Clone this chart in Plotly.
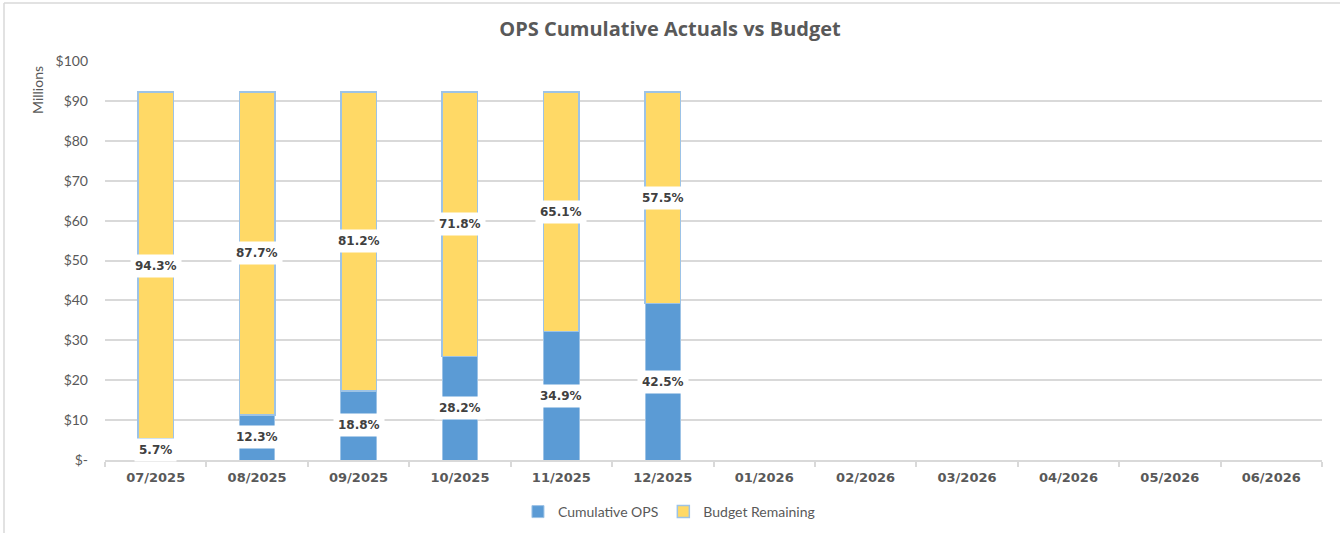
import plotly.graph_objects as go

months = ["07/2025", "08/2025", "09/2025", "10/2025", "11/2025", "12/2025",
          "01/2026", "02/2026", "03/2026", "04/2026", "05/2026", "06/2026"]
cumulative_ops = [5.26, 11.34, 17.33, 26.0, 32.18, 39.19]
budget_remaining = [86.94, 80.86, 74.87, 66.2, 60.02, 53.01]
ops_labels = ["5.7%", "12.3%", "18.8%", "28.2%", "34.9%", "42.5%"]
remaining_labels = ["94.3%", "87.7%", "81.2%", "71.8%", "65.1%", "57.5%"]
y_ticks = [0, 10, 20, 30, 40, 50, 60, 70, 80, 90, 100]
y_tick_labels = ["$-", "$10", "$20", "$30", "$40", "$50", "$60", "$70", "$80", "$90", "$100"]

BLUE = "#5B9BD5"
YELLOW = "#FFD966"
EDGE = "#9DC3E6"
GRAY = "#595959"
FONT = "Lato, Open Sans, sans-serif"
LABEL_FONT = "DejaVu Sans, sans-serif"

W, H = 1340, 533
ML, MR, MT, MB = 105, 18, 61, 73
PW, PH = W - ML - MR, H - MT - MB

n = len(cumulative_ops)
fig = go.Figure()
fig.add_trace(go.Bar(x=months[:n], y=cumulative_ops, name="Cumulative OPS",
                     marker=dict(color=BLUE, line=dict(color=EDGE, width=1)),
                     width=0.35))
fig.add_trace(go.Bar(x=months[:n], y=budget_remaining, name="Budget Remaining",
                     marker=dict(color=YELLOW, line=dict(color=EDGE, width=1.5)),
                     width=0.35))
fig.add_trace(go.Scatter(x=months, y=[None] * len(months), showlegend=False,
                         hoverinfo="skip", mode="markers"))

anns = []
for i in range(n):
    anns.append(dict(x=months[i], y=cumulative_ops[i] / 2, text="<b>%s</b>" % ops_labels[i],
                     showarrow=False, bgcolor="white", borderpad=4,
                     font=dict(family=LABEL_FONT, size=12, color="#404040")))
    anns.append(dict(x=months[i], y=cumulative_ops[i] + budget_remaining[i] / 2,
                     text="<b>%s</b>" % remaining_labels[i],
                     showarrow=False, bgcolor="white", borderpad=4,
                     font=dict(family=LABEL_FONT, size=12, color="#404040")))
anns.append(dict(xref="paper", yref="paper", x=(37 - ML) / PW, y=(H - MB - 90) / PH,
                 xanchor="center", yanchor="middle", text="Millions",
                 textangle=-90, showarrow=False,
                 font=dict(family=FONT, size=14, color=GRAY)))

fig.update_layout(
    barmode="stack",
    width=W, height=H,
    margin=dict(l=ML, r=MR, t=MT, b=MB, autoexpand=False),
    paper_bgcolor="white", plot_bgcolor="white",
    title=dict(text="<b>OPS Cumulative Actuals vs Budget</b>", x=0.5, xanchor="center",
               y=1 - 29 / H, yanchor="middle",
               font=dict(family="Open Sans, sans-serif", size=20, color=GRAY)),
    legend=dict(orientation="h", x=0.4634, xanchor="center", y=-(512 - (H - MB)) / PH,
                yanchor="middle",
                font=dict(family=FONT, size=14, color=GRAY), itemwidth=30,
                traceorder="normal"),
    annotations=anns,
    showlegend=True,
    shapes=[
        dict(type="line", xref="paper", yref="paper",
             x0=(4 - ML) / PW, x1=(W - ML) / PW, y0=(H - MB - 3) / PH, y1=(H - MB - 3) / PH,
             line=dict(color="#D9D9D9", width=1.5)),
        dict(type="line", xref="paper", yref="paper",
             x0=(4 - ML) / PW, x1=(4 - ML) / PW, y0=(H - MB - 3) / PH, y1=-MB / PH,
             line=dict(color="#D9D9D9", width=1.5)),
    ],
)
fig.update_xaxes(type="category", categoryorder="array", categoryarray=months,
                 range=[-0.5, 11.5], automargin=False,
                 showline=True, linecolor="#D9D9D9", linewidth=1.5,
                 ticks="outside", tickson="boundaries", ticklen=5, tickcolor="#D9D9D9",
                 tickwidth=1.5,
                 tickfont=dict(family=LABEL_FONT, size=13, color=GRAY),
                 ticklabelstandoff=5, showgrid=False)
fig.update_xaxes(tickprefix="<b>", ticksuffix="</b>")
fig.update_yaxes(range=[0, 100], tickvals=y_ticks, ticktext=y_tick_labels,
                 automargin=False,
                 showgrid=True, gridcolor="#D9D9D9", gridwidth=1.5,
                 zeroline=False, showline=False,
                 tickfont=dict(family=FONT, size=14, color=GRAY), ticklabelstandoff=16)

fig.write_html("out.html", config={"displayModeBar": False},
               post_script="document.body.style.margin='0px';")
